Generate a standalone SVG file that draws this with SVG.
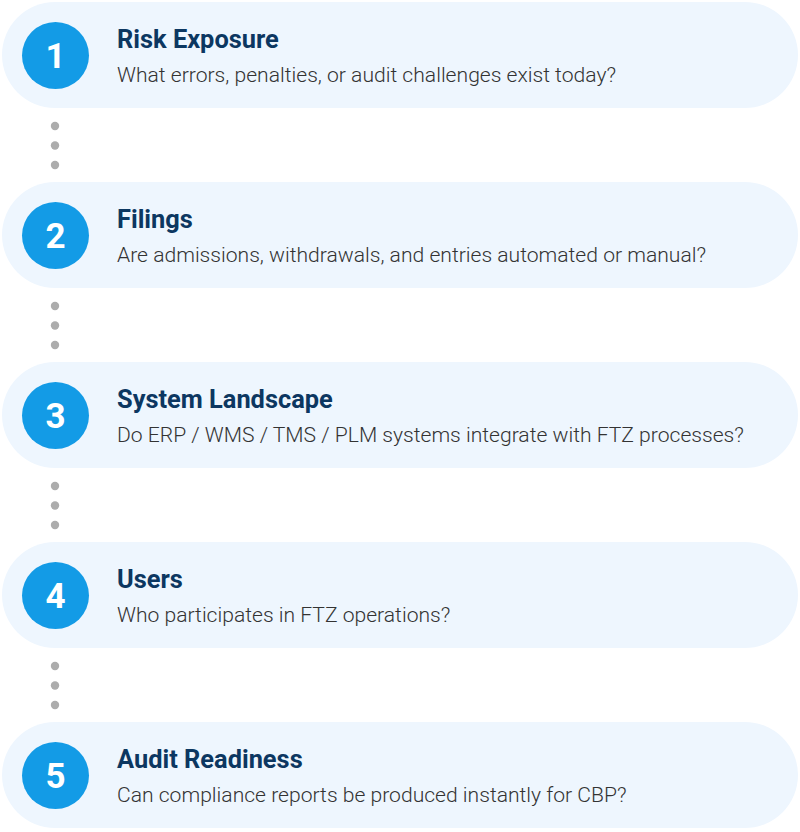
<svg xmlns="http://www.w3.org/2000/svg" width="800" height="832" viewBox="0 0 800 832">
<style>
.card{fill:#eef6fe}
.badge{fill:#139be6}
.num{font-family:Roboto,"Liberation Sans",sans-serif;font-weight:700;font-size:35px;fill:#fff;text-anchor:middle}
.title{font-family:Roboto,"Liberation Sans",sans-serif;font-weight:700;font-size:25.4px;fill:#0c3761}
.sub{font-family:Roboto,"Liberation Sans",sans-serif;font-weight:300;font-size:21.1px;fill:#333}
.dot{fill:#acacac}
</style>
<rect width="800" height="832" fill="#fff"/>
<g id="connectors">
<circle class="dot" cx="55" cy="126" r="4.2"/><circle class="dot" cx="55" cy="145.5" r="4.2"/><circle class="dot" cx="55" cy="165" r="4.2"/>
<circle class="dot" cx="55" cy="306" r="4.2"/><circle class="dot" cx="55" cy="325.5" r="4.2"/><circle class="dot" cx="55" cy="345" r="4.2"/>
<circle class="dot" cx="55" cy="486" r="4.2"/><circle class="dot" cx="55" cy="505.5" r="4.2"/><circle class="dot" cx="55" cy="525" r="4.2"/>
<circle class="dot" cx="55" cy="666" r="4.2"/><circle class="dot" cx="55" cy="685.5" r="4.2"/><circle class="dot" cx="55" cy="705" r="4.2"/>
</g>
<g id="step1">
<rect class="card" x="2" y="2" width="796" height="106" rx="53"/>
<circle class="badge" cx="55.5" cy="55.5" r="33.5"/>
<text class="num" x="55.5" y="68">1</text>
<text class="title" x="117" y="48">Risk Exposure</text>
<text class="sub" x="117" y="81.5">What errors, penalties, or audit challenges exist today?</text>
</g>
<g id="step2">
<rect class="card" x="2" y="182" width="796" height="106" rx="53"/>
<circle class="badge" cx="55.5" cy="235.5" r="33.5"/>
<text class="num" x="55.5" y="248">2</text>
<text class="title" x="117" y="228">Filings</text>
<text class="sub" x="117" y="261.5">Are admissions, withdrawals, and entries automated or manual?</text>
</g>
<g id="step3">
<rect class="card" x="2" y="362" width="796" height="106" rx="53"/>
<circle class="badge" cx="55.5" cy="415.5" r="33.5"/>
<text class="num" x="55.5" y="428">3</text>
<text class="title" x="117" y="408">System Landscape</text>
<text class="sub" x="117" y="441.5">Do ERP / WMS / TMS / PLM systems integrate with FTZ processes?</text>
</g>
<g id="step4">
<rect class="card" x="2" y="542" width="796" height="106" rx="53"/>
<circle class="badge" cx="55.5" cy="595.5" r="33.5"/>
<text class="num" x="55.5" y="608">4</text>
<text class="title" x="117" y="588">Users</text>
<text class="sub" x="117" y="621.5">Who participates in FTZ operations?</text>
</g>
<g id="step5">
<rect class="card" x="2" y="722" width="796" height="106" rx="53"/>
<circle class="badge" cx="55.5" cy="775.5" r="33.5"/>
<text class="num" x="55.5" y="788">5</text>
<text class="title" x="117" y="768">Audit Readiness</text>
<text class="sub" x="117" y="801.5">Can compliance reports be produced instantly for CBP?</text>
</g>
</svg>
